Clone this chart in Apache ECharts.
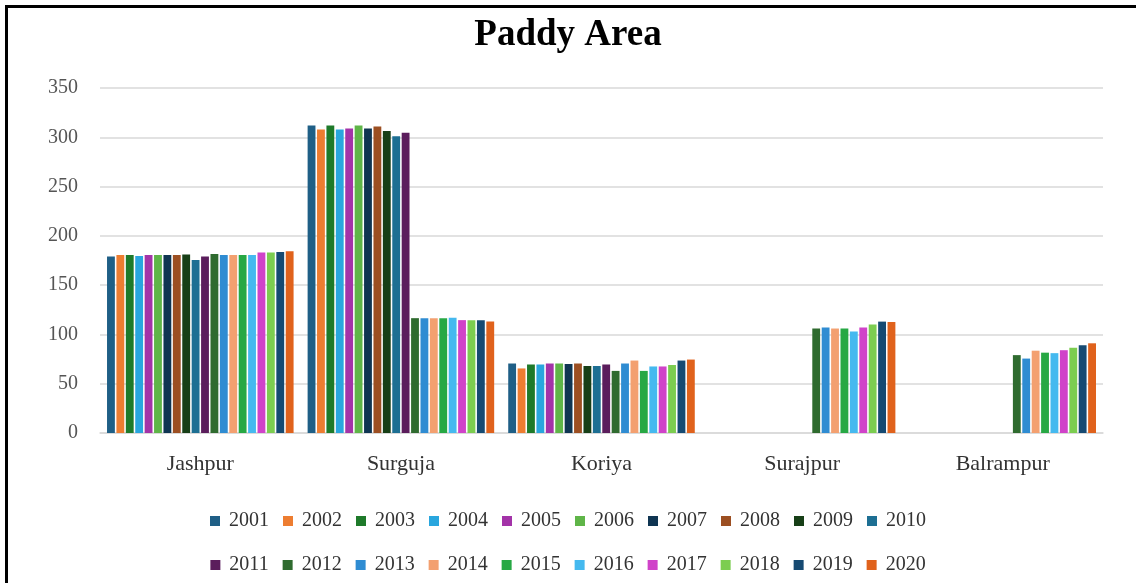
<!DOCTYPE html>
<html>
<head>
<meta charset="utf-8">
<script src="https://cdn.jsdelivr.net/npm/echarts@6/dist/echarts.min.js"></script>
<style>
  html, body { margin: 0; padding: 0; background: #fff; }
  #paddy_chart { width: 1136px; height: 583px; }
</style>
</head>
<body>
<div id="paddy_chart"></div>
<script>
const districts = ['Jashpur', 'Surguja', 'Koriya', 'Surajpur', 'Balrampur'];
const years = ['2001', '2002', '2003', '2004', '2005', '2006', '2007', '2008', '2009', '2010',
    '2011', '2012', '2013', '2014', '2015', '2016', '2017', '2018', '2019', '2020'];

// paddy area per district, 2001 .. 2020 (null = district not yet formed)
const jashpur = [179, 180.5, 180.5, 179.5, 180.5, 180.5, 180.5, 180.5, 181, 175.5,
    179, 181.5, 180.5, 180.5, 180.5, 180.5, 183, 183, 183.5, 184.5];
const surguja = [312, 308, 312, 308, 309, 312, 309, 311, 306.5, 301,
    304.5, 116.5, 116.5, 116.5, 116.5, 117, 114.5, 114.5, 114.5, 113];
const koriya = [70.5, 65.5, 69.5, 69.5, 70.5, 70.5, 70, 70.5, 68, 68,
    69.5, 63, 70.5, 73.5, 63, 67.5, 67.5, 69, 73.5, 74.5];
const surajpur = [null, null, null, null, null, null, null, null, null, null,
    null, 106, 107, 106, 106, 103, 107, 110, 113, 112.5];
const balrampur = [null, null, null, null, null, null, null, null, null, null,
    null, 79, 75.5, 83.5, 81.5, 81, 84, 86.5, 89, 91];

const yTicks = [0, 50, 100, 150, 200, 250, 300, 350];

const yearColors = ['#1f5f86', '#ed7d31', '#1e7a2a', '#29a6de', '#a333a8', '#5fb548', '#0f3552', '#9c4f22', '#173f17', '#1d6f93',
    '#5b1d5c', '#2f6b2f', '#2f8cd2', '#f3a070', '#27a844', '#45b9ef', '#d043c9', '#7ccd50', '#164a72', '#e0621c'];

const serif = '"Liberation Serif", "DejaVu Serif", serif';

const chartDom = document.getElementById('paddy_chart');
const paddyChart = echarts.init(chartDom);

const byDistrict = [jashpur, surguja, koriya, surajpur, balrampur];

const series = years.map((year, i) => ({
    name: year,
    type: 'bar',
    barGap: '20%',
    barCategoryGap: '7%',
    itemStyle: { color: yearColors[i] },
    data: byDistrict.map(list => list[i])
}));

const legendCommon = {
    left: 'center',
    itemWidth: 10,
    itemHeight: 10,
    itemGap: 14,
    icon: 'rect',
    textStyle: { fontFamily: serif, fontSize: 20, color: '#333', padding: [0, 0, 0, 4] }
};

const option = {
    animation: false,
    title: {
        text: 'Paddy Area',
        left: 'center',
        top: 12,
        textStyle: { fontFamily: serif, fontSize: 37, fontWeight: 'bold', color: '#000' }
    },
    legend: [
        { ...legendCommon, top: 506, data: years.slice(0, 10) },
        { ...legendCommon, top: 550, data: years.slice(10) }
    ],
    grid: { left: 100, right: 33, top: 88, bottom: 150 },
    xAxis: {
        type: 'category',
        data: districts,
        axisLine: { lineStyle: { color: '#d9d9d9', width: 1.5 } },
        axisTick: { show: false },
        axisLabel: { margin: 20, fontFamily: serif, fontSize: 22, color: '#333' }
    },
    yAxis: {
        type: 'value',
        min: yTicks[0],
        max: yTicks[yTicks.length - 1],
        interval: 50,
        axisLine: { show: false },
        axisTick: { show: false },
        axisLabel: { margin: 22, fontFamily: serif, fontSize: 20, color: '#555' },
        splitLine: { lineStyle: { color: '#d9d9d9', width: 1.5 } }
    },
    graphic: [
        { type: 'rect', shape: { x: 5, y: 5, width: 3, height: 578 }, style: { fill: '#000' } },
        { type: 'rect', shape: { x: 5, y: 5, width: 1131, height: 3 }, style: { fill: '#000' } }
    ],
    series
};

paddyChart.setOption(option);
</script>
</body>
</html>
